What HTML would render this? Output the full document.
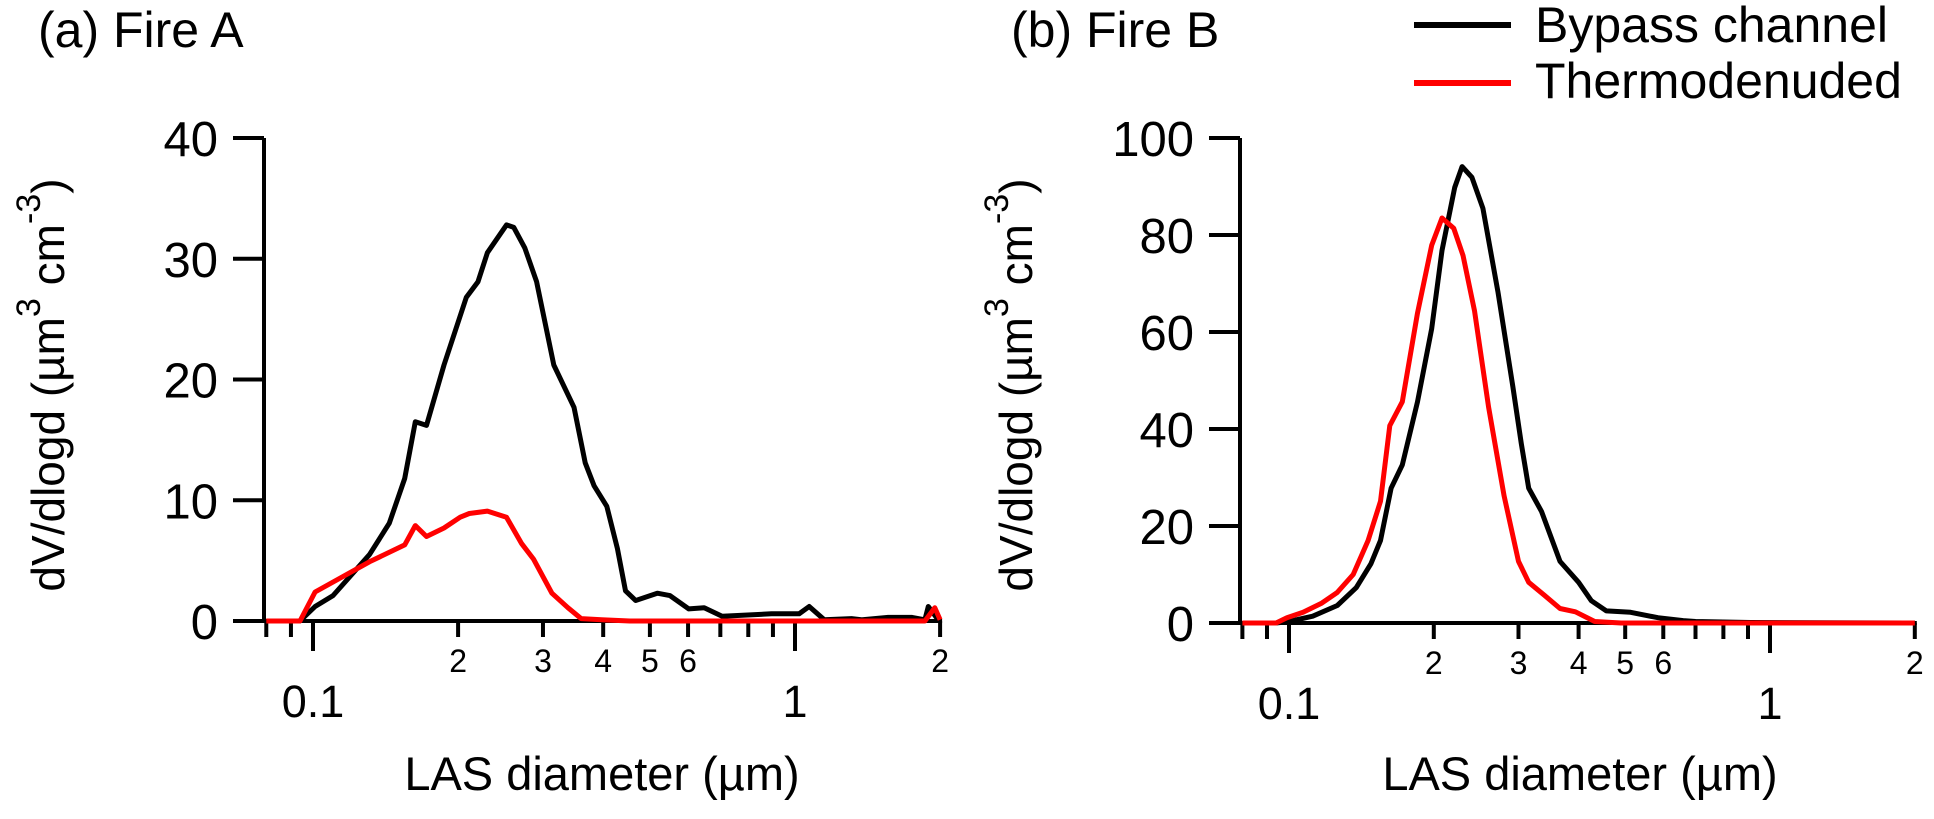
<!DOCTYPE html>
<html><head><meta charset="utf-8">
<style>
html,body{margin:0;padding:0;background:#fff;}
svg{display:block;font-family:"Liberation Sans",Arial,sans-serif;}
</style></head>
<body>
<svg id="chart" width="1934" height="819" viewBox="0 0 1934 819" xmlns="http://www.w3.org/2000/svg">
  <text x="38" y="47" font-size="50">(a) Fire A</text>
  <text x="1011" y="47" font-size="50">(b) Fire B</text>
  <g>
    <line x1="1414" y1="25" x2="1511" y2="25" stroke="#000" stroke-width="6"/>
    <text x="1535" y="42" font-size="50">Bypass channel</text>
    <line x1="1414" y1="83" x2="1511" y2="83" stroke="#f00" stroke-width="6"/>
    <text x="1535" y="98" font-size="50">Thermodenuded</text>
  </g>
</svg>
<script>
const aBypassX=[0.08,0.094,0.101,0.110,0.120,0.131,0.144,0.155,0.163,0.172,0.187,0.208,0.220,0.230,0.252,0.261,0.275,0.291,0.316,0.348,0.367,0.383,0.407,0.428,0.445,0.467,0.518,0.550,0.602,0.648,0.706,0.894,1.02,1.07,1.15,1.31,1.38,1.56,1.75,1.86,1.89,1.99];
const aBypassY=[0,0,1.2,2.1,3.8,5.5,8.1,11.8,16.5,16.2,21.2,26.8,28.1,30.5,32.8,32.6,30.9,28.1,21.2,17.7,13.1,11.2,9.5,6.0,2.5,1.7,2.3,2.1,1.0,1.1,0.4,0.6,0.6,1.2,0.1,0.2,0.1,0.3,0.3,0.1,1.2,0];
const aThermoX=[0.08,0.094,0.101,0.131,0.155,0.163,0.172,0.187,0.202,0.211,0.230,0.252,0.271,0.287,0.313,0.338,0.360,0.397,0.454,1.86,1.95,2.0];
const aThermoY=[0,0,2.4,4.9,6.3,7.9,7.0,7.7,8.6,8.9,9.1,8.6,6.4,5.1,2.3,1.1,0.2,0.1,0,0,1.1,0.1];
const bBypassX=[0.08,0.094,0.1,0.112,0.126,0.138,0.148,0.155,0.163,0.172,0.185,0.198,0.208,0.221,0.229,0.240,0.253,0.272,0.292,0.304,0.315,0.335,0.366,0.400,0.425,0.457,0.513,0.585,0.660,0.70,0.91,2.0];
const bBypassY=[0,0,0.3,1.4,3.6,7.3,12.2,17,27.8,32.6,45.6,60.7,76.8,89.8,94.1,91.9,85.5,68.2,48.8,37,27.8,23,12.7,8.4,4.6,2.5,2.2,1.1,0.5,0.3,0.1,0];
const bThermoX=[0.08,0.094,0.099,0.107,0.117,0.126,0.136,0.146,0.155,0.162,0.172,0.185,0.198,0.208,0.220,0.230,0.243,0.260,0.280,0.300,0.315,0.340,0.366,0.394,0.432,0.49,2.0];
const bThermoY=[0,0,1.1,2.2,4.1,6.3,10,17,25.1,40.7,45.6,63.9,77.9,83.5,81.4,75.8,64.4,44.5,26.2,12.7,8.4,5.7,3,2.3,0.3,0,0];
const aYTicks=[0,10,20,30,40];
const bYTicks=[0,20,40,60,80,100];
const minorTicks=[0.08,0.09,0.2,0.3,0.4,0.5,0.6,0.7,0.8,0.9,2];
const minorLabels=[[0.2,"2"],[0.3,"3"],[0.4,"4"],[0.5,"5"],[0.6,"6"],[2,"2"]];
const majorTicks=[[0.1,"0.1"],[1,"1"]];

const NS="http://www.w3.org/2000/svg";
const svg=document.getElementById('chart');
function mk(tag,attrs,parent){const e=document.createElementNS(NS,tag);for(const k in attrs)e.setAttribute(k,attrs[k]);(parent||svg).appendChild(e);return e;}

function panel(p){
  const g=mk('g',{});
  
  
  const xs=v=>p.x01+(Math.log10(v)+1)*p.dec;
  const ys=v=>p.y0-(v/p.ymax)*(p.y0-p.ytop);
  const ya=mk('line',{x1:p.ax,y1:p.ytop,x2:p.ax,y2:p.y0,stroke:'#000','stroke-width':4},g);
  
  
  const xa=mk('line',{x1:p.ax,y1:p.y0,x2:xs(2)+2,y2:p.y0,stroke:'#000','stroke-width':4},g);
  
  
  p.yt.forEach(v=>{
    const t=mk('line',{x1:p.ax-31,y1:ys(v),x2:p.ax,y2:ys(v),stroke:'#000','stroke-width':4},g);
    
    
    const l=mk('text',{x:p.ax-46,y:ys(v)+18,'font-size':49,'text-anchor':'end'},g);
    
    
    l.textContent=v;
  });
  minorTicks.forEach(v=>{
    const t=mk('line',{x1:xs(v),y1:p.y0,x2:xs(v),y2:p.y0+16,stroke:'#000','stroke-width':4},g);
    
    
  });
  minorLabels.forEach(([v,s])=>{
    const l=mk('text',{x:xs(v),y:p.y0+51,'font-size':32,'text-anchor':'middle'},g);
    
    
    l.textContent=s;
  });
  majorTicks.forEach(([v,s])=>{
    const t=mk('line',{x1:xs(v),y1:p.y0,x2:xs(v),y2:p.y0+30,stroke:'#000','stroke-width':4},g);
    
    
    const l=mk('text',{x:xs(v),y:p.y0+96,'font-size':45,'text-anchor':'middle'},g);
    
    
    l.textContent=s;
  });
  const xt=mk('text',{x:p.xtc,y:790,'font-size':47,'text-anchor':'middle'},g);
  
  
  xt.textContent='LAS diameter (\u00b5m)';
  const yt=mk('text',{transform:`translate(${p.ytx},385) rotate(-90)`,'font-size':46,'text-anchor':'middle'},g);
  
  
  yt.innerHTML='dV/dlogd (\u00b5m<tspan dy="-24" font-size="34">3</tspan><tspan dy="24"> cm</tspan><tspan dy="-24" font-size="34">-3</tspan><tspan dy="24">)</tspan>';
  [[p.bx,p.by,'#000','bypass-line'],[p.tx,p.ty,'#f00','thermodenuded-line']].forEach(([X,Y,c,n])=>{
    const pts=X.map((x,i)=>xs(x).toFixed(1)+','+ys(Y[i]).toFixed(1)).join(' ');
    const pl=mk('polyline',{points:pts,fill:'none',stroke:c,'stroke-width':5,'stroke-linejoin':'round'},g);
    
    
  });
}
panel({name:'panel-a',x01:313,dec:482,ax:264,y0:621,ytop:138,ymax:40,yt:aYTicks,xtc:602,ytx:64,bx:aBypassX,by:aBypassY,tx:aThermoX,ty:aThermoY});
panel({name:'panel-b',x01:1289,dec:481,ax:1240,y0:623,ytop:138,ymax:100,yt:bYTicks,xtc:1580,ytx:1032,bx:bBypassX,by:bBypassY,tx:bThermoX,ty:bThermoY});
</script>
</body></html>
